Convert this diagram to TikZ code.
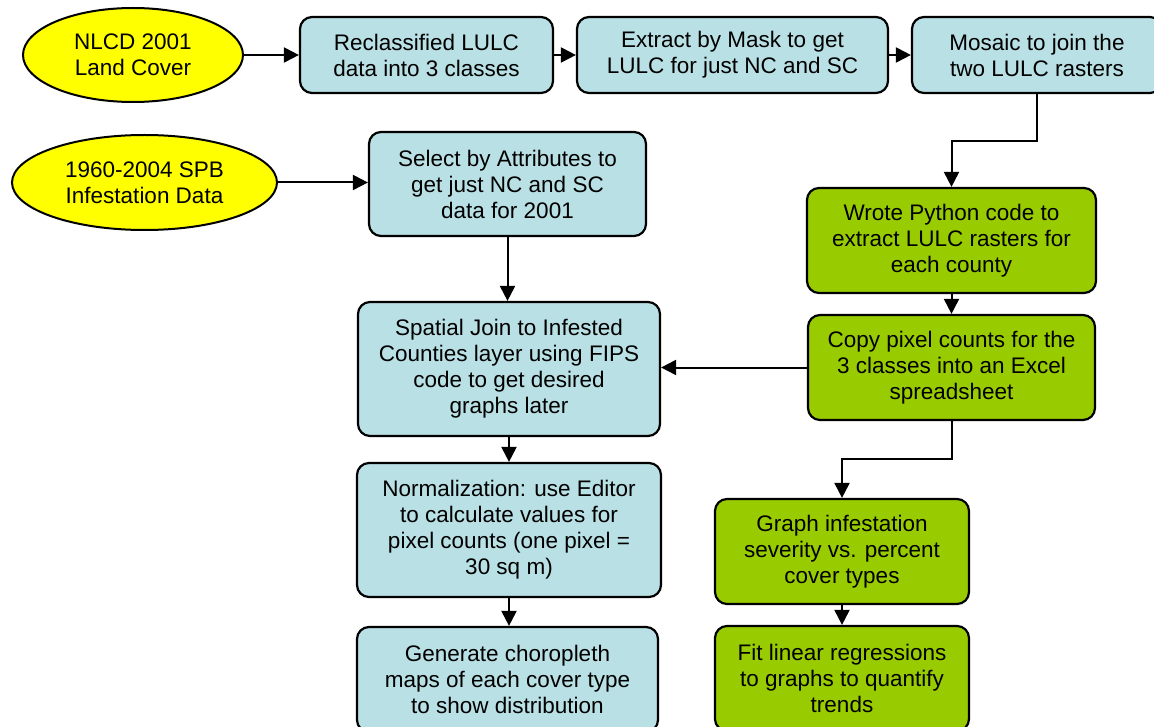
\documentclass[tikz,border=0pt]{standalone}
\usepackage{fontspec}
\setmainfont{Liberation Sans}
\usetikzlibrary{shapes.geometric,arrows.meta}
\definecolor{boxblue}{RGB}{185,224,228}
\definecolor{boxgreen}{RGB}{153,204,0}
\definecolor{ellyellow}{RGB}{255,255,0}
\begin{document}
\begin{tikzpicture}[x=1pt,y=-1pt,
  every node/.style={font=\fontsize{22.5}{26}\selectfont, align=center, inner sep=0pt},
  bluebox/.style={draw=black, line width=2.2pt, rounded corners=12pt, fill=boxblue},
  greenbox/.style={draw=black, line width=2.2pt, rounded corners=12pt, fill=boxgreen},
  startell/.style={draw=black, line width=2pt, ellipse, fill=ellyellow},
  conn/.style={line width=2pt, -{Triangle[length=15pt,width=15pt]}}]
\useasboundingbox (0,0) rectangle (1154,727);
\begin{scope}
\clip (0,0) rectangle (1154,727);
\node[startell, minimum width=220pt, minimum height=94pt] (e1) at (133,55) {NLCD 2001\\Land Cover};
\node[bluebox, minimum width=253pt, minimum height=76pt] (r1) at (426.5,55) {Reclassified LULC\\data into 3 classes};
\node[bluebox, minimum width=311pt, minimum height=76pt] (r2) at (732.5,55) {Extract by Mask to get\\LULC for just NC and SC};
\node[bluebox, minimum width=250pt, minimum height=76pt] (r3) at (1037,55) {Mosaic to join the\\two LULC rasters};
\node[startell, minimum width=265pt, minimum height=95pt] (e2) at (144.5,182.5) {1960-2004 SPB\\Infestation Data};
\node[bluebox, minimum width=277pt, minimum height=104pt] (s1) at (507.5,184) {Select by Attributes to\\get just NC and SC\\data for 2001};
\node[greenbox, minimum width=289pt, minimum height=105pt] (g1) at (951.5,240.5) {Wrote Python code to\\extract LULC rasters for\\each county};
\node[greenbox, minimum width=287pt, minimum height=105pt] (g2) at (951.5,367.5) {Copy pixel counts for the\\3 classes into an Excel\\spreadsheet};
\node[bluebox, minimum width=302pt, minimum height=134pt] (sj) at (509,369) {Spatial Join to Infested\\Counties layer using FIPS\\code to get desired\\graphs later};
\node[bluebox, minimum width=304pt, minimum height=134pt] (nm) at (509,530) {Normalization: use Editor\\to calculate values for\\pixel counts (one pixel =\\30 sq m)};
\node[bluebox, minimum width=301pt, minimum height=105pt] (gen) at (507.5,679.5) {Generate choropleth\\maps of each cover type\\to show distribution};
\node[greenbox, minimum width=254pt, minimum height=105pt] (gr) at (842,551.5) {Graph infestation\\severity vs. percent\\cover types};
\node[greenbox, minimum width=254pt, minimum height=105pt] (fit) at (842,678.5) {Fit linear regressions\\to graphs to quantify\\trends};
\coordinate (m1) at (1037,141);
\coordinate (m2) at (951.5,141);
\coordinate (c1) at (951.5,459);
\coordinate (c2) at (842,459);
\draw[conn] (r3.south) -- (m1) -- (m2) -- (m2 |- g1.north);
\draw[conn] (e1.east) -- (r1.west);
\draw[conn] (r1.east) -- (r2.west);
\draw[conn] (r2.east) -- (r3.west);
\draw[conn] (e2.east) -- (e2.east -| s1.west);
\draw[conn] (s1.south) -- (s1.south |- sj.north);
\draw[conn] (g1.south) -- (g1.south |- g2.north);
\draw[conn] (g2.west) -- (g2.west -| sj.east);
\draw[conn] (sj.south) -- (sj.south |- nm.north);
\draw[conn] (nm.south) -- (nm.south |- gen.north);
\draw[conn] (g2.south) -- (c1) -- (c2) -- (c2 |- gr.north);
\draw[conn] (gr.south) -- (gr.south |- fit.north);
\end{scope}
\end{tikzpicture}
\end{document}
